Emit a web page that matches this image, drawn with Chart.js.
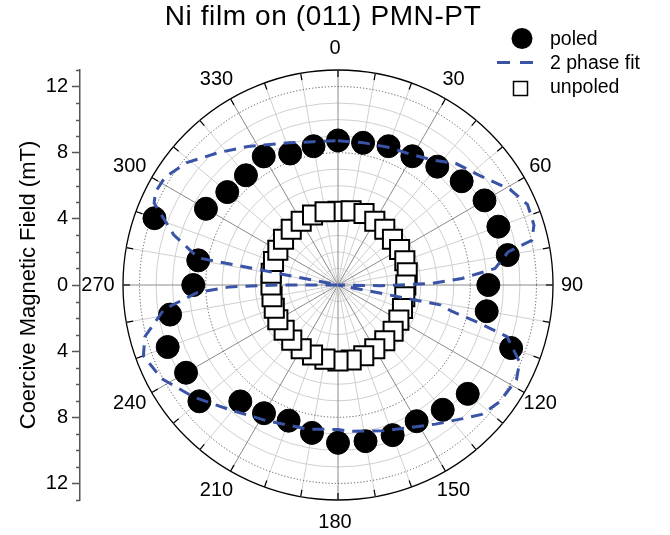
<!DOCTYPE html>
<html>
<head>
<meta charset="utf-8">
<script src="https://cdn.jsdelivr.net/npm/chart.js@4.4.1/dist/chart.umd.min.js"></script>
<style>
  html, body { margin: 0; padding: 0; background: #fff; }
  #wrap { position: relative; width: 670px; height: 535px; }
</style>
</head>
<body>
<div id="wrap"><canvas id="chart" width="670" height="535"></canvas></div>
<script>
// Angular grid: one category per degree, 0° at the top, clockwise
const degrees = Array.from({ length: 360 }, (_, i) => i);
const angleTickLabels = [0, 30, 60, 90, 120, 150, 180, 210, 240, 270, 300, 330];
const fieldTickValues = [-12, -8, -4, 0, 4, 8, 12];

// Poled sample: coercive field (mT) vs in-plane angle (deg); no point at 120°
const poledAngles = [0, 10, 20, 30, 40, 50, 60, 70, 80, 90, 100, 110, 120, 130, 140, 150, 160, 170,
                     180, 190, 200, 210, 220, 230, 240, 250, 260, 270, 280, 290, 300, 310, 320, 330, 340, 350];
const poledField = [8.74, 8.73, 8.93, 8.99, 9.34, 9.76, 10.23, 10.32, 10.42, 9.09, 9.13, 11.14, null, 10.24, 9.85, 9.51, 9.66, 9.59,
                    9.54, 9.08, 8.73, 8.95, 9.19, 10.94, 10.61, 10.96, 10.31, 8.75, 8.58, 11.81, 9.22, 8.74, 8.66, 8.98, 8.46, 8.52];

// Unpoled sample
const unpoledAngles = poledAngles;
const unpoledField = [4.45, 4.55, 4.6, 4.45, 4.4, 4.3, 4.3, 4.3, 4.25, 4.1, 4.1, 4.15, 4.25, 4.35, 4.4, 4.45, 4.55, 4.6,
                      4.6, 4.55, 4.5, 4.45, 4.35, 4.25, 4.2, 4.1, 4.05, 4.05, 4.1, 4.15, 4.2, 4.3, 4.4, 4.45, 4.5, 4.5];

// Two-phase model curve for the poled sample
const fitAngles = [0, 10, 20, 30, 38, 44, 52, 61, 67, 73, 77, 79, 84, 87, 89, 91, 93, 101, 103, 105, 107, 113,
                   118, 126, 132, 137, 145, 154, 163, 175, 180, 192, 208, 221, 232, 242, 250, 255, 262, 267,
                   269, 270, 275, 281, 287, 294, 297, 302, 309, 318, 327, 341, 350];
const fitField = [8.72, 8.74, 8.86, 9.08, 9.55, 10.23, 10.8, 11.9, 12.45, 12.39, 12.03, 10.48, 9.55, 7.5, 5.67, 2.6, 0, 6.3, 7.05, 8.74, 10.69, 11.93,
                  12.22, 12.05, 11.69, 11.05, 10.27, 9.61, 9.22, 8.88, 8.74, 8.91, 9.28, 9.99, 11.03, 12.07, 12.52, 12.09, 10.63, 8.5,
                  6.53, 3.5, 0, 8.6, 10.39, 12.17, 12.39, 12.32, 11.76, 10.78, 9.99, 9.09, 8.8];

const FONT = "'Liberation Sans', Arial, Helvetica, sans-serif";
const FIT_COLOR = '#3953a6';
Chart.defaults.font.family = FONT;

// spread (angle, value) pairs over the per-degree category axis
function onDegrees(angles, values) {
  const out = new Array(degrees.length).fill(null);
  angles.forEach((a, i) => { out[a] = values[i]; });
  return out;
}

const polarDecor = {
  id: 'polarDecor',
  beforeDatasetsDraw(chart) {
    const r = chart.scales.r;
    const ctx = chart.ctx;
    ctx.save();
    // dotted major circles
    ctx.strokeStyle = '#555';
    ctx.lineWidth = 1;
    ctx.setLineDash([1.2, 2]);
    [4, 8, 12].forEach(v => {
      ctx.beginPath();
      ctx.arc(r.xCenter, r.yCenter, r.getDistanceFromCenterForValue(v), 0, Math.PI * 2);
      ctx.stroke();
    });
    ctx.setLineDash([]);
    // rim ticks every 10°
    ctx.strokeStyle = '#000';
    ctx.lineWidth = 1.2;
    for (let i = 0; i < degrees.length; i += 10) {
      const a = r.getPointPosition(i, r.drawingArea);
      const b = r.getPointPosition(i, r.drawingArea - 7);
      ctx.beginPath();
      ctx.moveTo(a.x, a.y);
      ctx.lineTo(b.x, b.y);
      ctx.stroke();
    }
    ctx.restore();
  },
  afterDraw(chart) {
    const r = chart.scales.r;
    const y = chart.scales.y;
    const ctx = chart.ctx;
    ctx.save();

    // angle labels around the rim
    ctx.fillStyle = '#000';
    ctx.font = '20px ' + FONT;
    ctx.textAlign = 'center';
    ctx.textBaseline = 'middle';
    angleTickLabels.forEach(a => {
      const p = r.getPointPosition(a, r.drawingArea + 22);
      ctx.fillText(String(a), p.x - 3, p.y);
    });

    // minor ticks on the field axis
    ctx.strokeStyle = '#555';
    ctx.lineWidth = 1.5;
    for (let v = -13; v <= 13; v++) {
      if (v % 4 === 0) continue;
      const py = Math.round(y.getPixelForValue(v)) + 0.5;
      ctx.beginPath();
      ctx.moveTo(y.right, py);
      ctx.lineTo(y.right - 4, py);
      ctx.stroke();
    }

    // title
    ctx.fillStyle = '#000';
    ctx.font = '28px ' + FONT;
    ctx.textBaseline = 'alphabetic';
    ctx.textAlign = 'center';
    if ('letterSpacing' in ctx) ctx.letterSpacing = '0.6px';
    ctx.fillText('Ni film on (011) PMN-PT', 323, 25);
    if ('letterSpacing' in ctx) ctx.letterSpacing = '0px';

    // legend
    ctx.beginPath();
    ctx.arc(522, 38.5, 10.5, 0, Math.PI * 2);
    ctx.fillStyle = '#000';
    ctx.fill();
    ctx.strokeStyle = FIT_COLOR;
    ctx.lineWidth = 3;
    ctx.setLineDash([13, 10]);
    ctx.beginPath();
    ctx.moveTo(497, 62.5);
    ctx.lineTo(534, 62.5);
    ctx.stroke();
    ctx.setLineDash([]);
    ctx.fillStyle = '#fff';
    ctx.fillRect(513.5, 81.5, 14, 14);
    ctx.strokeStyle = '#000';
    ctx.lineWidth = 1.5;
    ctx.strokeRect(513.5, 81.5, 14, 14);
    ctx.fillStyle = '#000';
    ctx.font = '19.5px ' + FONT;
    ctx.textAlign = 'left';
    ctx.fillText('poled', 550, 45);
    ctx.fillText('2 phase fit', 550, 69);
    ctx.fillText('unpoled', 550, 93);
    ctx.restore();
  }
};

new Chart(document.getElementById('chart'), {
  type: 'radar',
  data: {
    labels: degrees,
    datasets: [
      {
        label: '2 phase fit',
        data: onDegrees(fitAngles, fitField),
        borderColor: FIT_COLOR,
        borderWidth: 3,
        borderDash: [12, 8],
        fill: false,
        spanGaps: true,
        tension: 0,
        pointRadius: 0
      },
      {
        label: 'poled',
        data: onDegrees(poledAngles, poledField),
        showLine: false,
        fill: false,
        pointStyle: 'circle',
        pointRadius: 11.5,
        pointBackgroundColor: '#000',
        pointBorderColor: '#000',
        pointBorderWidth: 1
      },
      {
        label: 'unpoled',
        data: onDegrees(unpoledAngles, unpoledField),
        showLine: false,
        fill: false,
        pointStyle: 'rect',
        pointRadius: 13.5,
        pointBackgroundColor: '#fff',
        pointBorderColor: '#000',
        pointBorderWidth: 2
      }
    ]
  },
  options: {
    responsive: false,
    animation: false,
    events: [],
    layout: { padding: { left: 0, right: 74, top: 70, bottom: 35 } },
    plugins: { legend: { display: false }, tooltip: { enabled: false }, title: { display: false } },
    scales: {
      r: {
        min: 0,
        max: 13,
        startAngle: 0,
        ticks: { stepSize: 1, display: false },
        grid: {
          circular: true,
          color: c => {
            const v = c.tick.value;
            if (v === 13) return '#000';
            if (v % 4 === 0) return 'rgba(0,0,0,0)';
            return '#cfcfcf';
          },
          lineWidth: c => (c.tick.value === 13 ? 1.3 : 1)
        },
        angleLines: {
          color: c => (c.index % 30 === 0 ? '#8a8a8a' : (c.index % 10 === 0 ? '#cfcfcf' : 'rgba(0,0,0,0)')),
          lineWidth: c => (c.index % 10 === 0 ? 1 : 0)
        },
        pointLabels: { display: false }
      },
      y: {
        type: 'linear',
        position: 'left',
        min: -13,
        max: 13,
        afterFit: s => { s.width = 80; },
        afterBuildTicks: s => {
          s.ticks = Array.from({ length: 27 }, (_, i) => ({ value: i - 13 }));
        },
        ticks: {
          autoSkip: false,
          padding: 4,
          color: '#000',
          font: { size: 20 },
          callback: v => (fieldTickValues.includes(v) ? String(Math.abs(v)) : '')
        },
        grid: {
          display: true,
          drawOnChartArea: false,
          drawTicks: true,
          tickLength: 8,
          tickWidth: 1.5,
          tickColor: c => (c.tick && fieldTickValues.includes(c.tick.value) ? '#555' : 'rgba(0,0,0,0)')
        },
        border: { display: true, color: '#555', width: 1.5 },
        title: {
          display: true,
          text: 'Coercive Magnetic Field (mT)',
          color: '#000',
          font: { size: 22 },
          padding: { top: 16, bottom: 0 }
        }
      }
    }
  },
  plugins: [polarDecor]
});
</script>
</body>
</html>
